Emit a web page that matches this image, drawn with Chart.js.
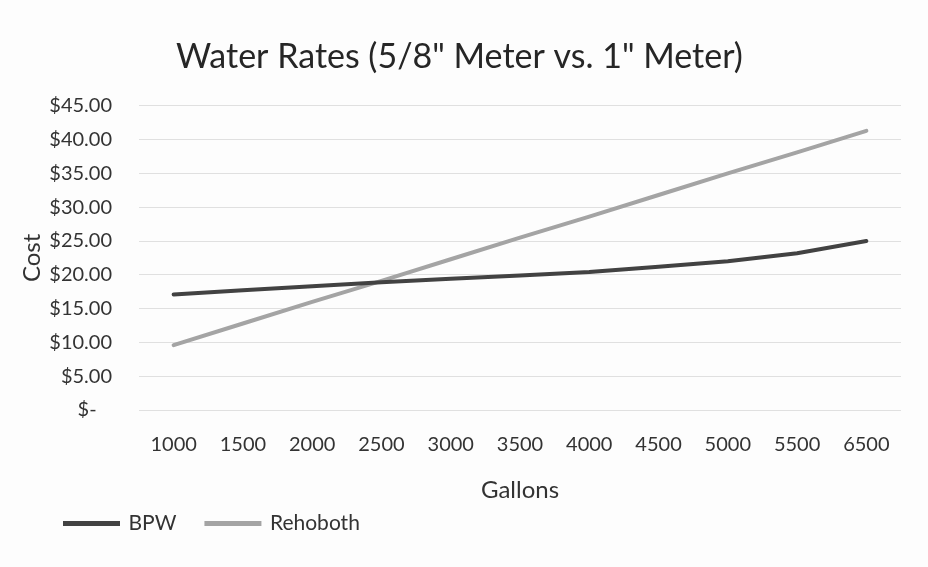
<!DOCTYPE html>
<html>
<head>
<meta charset="utf-8">
<script src="https://cdn.jsdelivr.net/npm/chart.js@4"></script>
<style>
  html, body { margin: 0; padding: 0; background: #fdfdfd; }
  #wrap { width: 928px; height: 567px; }
</style>
</head>
<body>
<div id="wrap"><canvas id="rates" width="928" height="567"></canvas></div>
<script>
let gallons = ["1000", "1500", "2000", "2500", "3000", "3500", "4000", "4500", "5000", "5500", "6500"];
let bpwCost = [17.1, 17.7, 18.3, 18.9, 19.4, 19.9, 20.4, 21.2, 22.0, 23.2, 25.0];
let rehobothCost = [9.6, 12.8, 16.0, 19.1, 22.3, 25.5, 28.6, 31.8, 35.0, 38.1, 41.3];

const fontName = "Lato, 'Open Sans', sans-serif";

// legend sits further right than the axis title and a bit higher
const nudgeLegend = {
    id: "nudgeLegend",
    afterLayout(chart) {
        let lg = chart.legend;
        lg.left += 17;
        lg.right += 17;
        lg.top -= 22;
        lg.bottom -= 22;
    }
};

let ctx = document.getElementById("rates");
let ratesChart = new Chart(ctx, {
    type: "line",
    data: {
        labels: gallons,
        datasets: [{
                label: "BPW",
                data: bpwCost,
                borderColor: "#424242",
                backgroundColor: "#424242",
                borderWidth: 4,
                borderCapStyle: "round",
                pointRadius: 0,
                tension: 0,
            },
            {
                label: "Rehoboth",
                data: rehobothCost,
                borderColor: "#a4a4a4",
                backgroundColor: "#a4a4a4",
                borderWidth: 4,
                borderCapStyle: "round",
                pointRadius: 0,
                tension: 0,
            },
        ],
    },
    plugins: [nudgeLegend],
    options: {
        responsive: false,
        animation: false,
        layout: {
            padding: { left: 18, right: 27, top: 20, bottom: 1 },
        },
        plugins: {
            title: {
                display: true,
                text: 'Water Rates (5/8" Meter vs. 1" Meter)',
                color: "#262626",
                font: { family: fontName, size: 34, weight: "normal" },
                padding: { top: 17, bottom: 28 },
            },
            legend: {
                position: "bottom",
                align: "start",
                labels: {
                    boxWidth: 53,
                    boxHeight: 1,
                    padding: 30,
                    color: "#333333",
                    font: { family: fontName, size: 21 },
                },
            },
            tooltip: { enabled: false },
        },
        scales: {
            x: {
                offset: true,
                grid: { display: false },
                border: { display: false },
                ticks: {
                    color: "#333333",
                    padding: 15,
                    maxRotation: 0,
                    font: { family: fontName, size: 20 },
                },
                title: {
                    display: true,
                    text: "Gallons",
                    color: "#333333",
                    font: { family: fontName, size: 24 },
                    padding: { top: 0, bottom: 0 },
                },
                afterFit(scale) {
                    scale.height = 95;
                },
            },
            y: {
                min: 0,
                max: 45,
                grid: { color: "#e0e0e0", lineWidth: 1, drawTicks: false },
                border: { display: false },
                ticks: {
                    stepSize: 5,
                    color: "#333333",
                    padding: 27,
                    font: { family: fontName, size: 20 },
                    callback: function(value) {
                        if (value === 0) return "$-   ";
                        return "$" + value.toFixed(2);
                    },
                },
                title: {
                    display: true,
                    text: "Cost",
                    color: "#333333",
                    font: { family: fontName, size: 24 },
                    padding: 0,
                },
                afterFit(scale) {
                    scale.width = 121;
                },
            },
        },
    },
});
</script>
</body>
</html>
